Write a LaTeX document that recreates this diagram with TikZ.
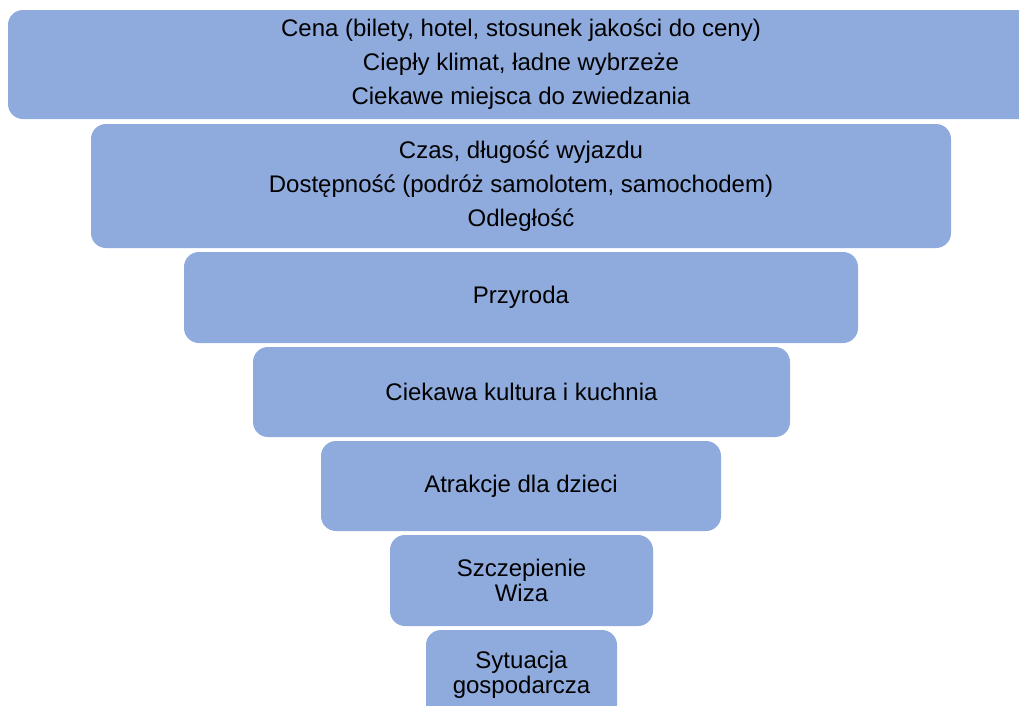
\documentclass[tikz,border=0pt]{standalone}
\usepackage{fontspec}
\setmainfont{Liberation Sans}
\usepackage{tikz}
\definecolor{tierblue}{HTML}{8FAADC}
\tikzset{
	tier/.style     = {fill = tierblue, rounded corners = 15pt, inner sep = 0pt,
		align = center, font = \fontsize{24}{34}\selectfont},
	tight/.style    = {font = \fontsize{24}{24.5}\selectfont} % two short lines
}

\begin{document}
\begin{tikzpicture}[x=1pt, y=-1pt]
\path[clip] (0,0) rectangle (1019,705);
\draw
% the tiers of the funnel, from the widest down
node at (521,64.5)[tier, minimum width = 1026pt, minimum height = 109pt] (t1)
	{Cena (bilety, hotel, stosunek jakości do ceny)\\Ciepły klimat, ładne wybrzeże\\Ciekawe miejsca do zwiedzania}
node at (521,186)[tier, minimum width = 860pt, minimum height = 124pt] (t2)
	{Czas, długość wyjazdu\\Dostępność (podróż samolotem, samochodem)\\Odległość}
node at (521,297.5)[tier, minimum width = 674pt, minimum height = 91pt] (t3) {Przyroda}
node at (521.5,392)[tier, minimum width = 537pt, minimum height = 90pt] (t4) {Ciekawa kultura i kuchnia}
node at (521,486)[tier, minimum width = 400pt, minimum height = 90pt] (t5) {Atrakcje dla dzieci}
node at (521.5,580.5)[tier, tight, minimum width = 263pt, minimum height = 91pt] (t6) {Szczepienie\\Wiza}
node at (521.5,675)[tier, tight, minimum width = 191pt, minimum height = 90pt] (t7) {Sytuacja\\gospodarcza};
\end{tikzpicture}
\end{document}
